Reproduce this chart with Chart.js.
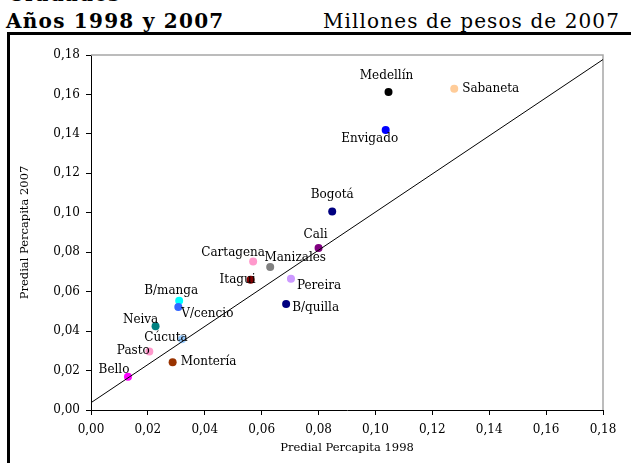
<!DOCTYPE html>
<html>
<head>
<meta charset="utf-8">
<script src="https://cdn.jsdelivr.net/npm/chart.js@4.4.1/dist/chart.umd.min.js"></script>
<style>
    body { margin: 0; width: 631px; height: 463px; overflow: hidden; background: #fff; position: relative; font-family: "DejaVu Serif", serif; }
    .head { position: absolute; white-space: nowrap; color: #000; line-height: normal; }
    #cut { left: 8px; top: -18px; font-size: 20px; font-weight: bold; letter-spacing: 1.2px; }
    #years { left: 6px; top: 9px; font-size: 20px; font-weight: bold; letter-spacing: 1.25px; }
    #units { left: 323px; top: 9px; font-size: 20px; letter-spacing: 1.1px; }
    #frame { position: absolute; left: 7px; top: 32px; width: 640px; height: 460px; border: 3px solid #000; box-sizing: border-box; }
    #wrap { position: absolute; left: 0; top: 0; width: 631px; height: 463px; }
</style>
</head>
<body>
<div class="head" id="cut">Ciudades</div>
<div class="head" id="years">Años 1998 y 2007</div>
<div class="head" id="units">Millones de pesos de 2007</div>
<div id="frame"></div>
<div id="wrap"><canvas id="chart"></canvas></div>

<script>
// Cities and their predial per capita (millones de pesos de 2007)
const cities = ['Medellín', 'Sabaneta', 'Envigado', 'Bogotá', 'Cali', 'Cartagena', 'Manizales', 'Itagui',
    'Pereira', 'B/manga', 'V/cencio', 'B/quilla', 'Neiva', 'Cúcuta', 'Pasto', 'Montería', 'Bello'];
const predial1998 = [0.1046, 0.1277, 0.1036, 0.0848, 0.0800, 0.0570, 0.0630, 0.0561,
    0.0703, 0.0310, 0.0307, 0.0686, 0.0227, 0.0320, 0.0205, 0.0287, 0.0130];
const predial2007 = [0.1613, 0.1629, 0.1420, 0.1006, 0.0821, 0.0753, 0.0725, 0.0660,
    0.0665, 0.0554, 0.0522, 0.0537, 0.0425, 0.0359, 0.0296, 0.0242, 0.0169];
const cityColors = ['#000000', '#ffcc99', '#0000ff', '#000080', '#800080', '#ff99cc', '#808080', '#800000',
    '#cc99ff', '#00ffff', '#3366ff', '#000080', '#008080', '#99ccff', '#ff99cc', '#993300', '#ff00ff'];

// Trend line end points
const trendX = [0, 0.18];
const trendY = [0.0037, 0.1777];

// Axis ticks
const tickValues = [0, 0.02, 0.04, 0.06, 0.08, 0.10, 0.12, 0.14, 0.16, 0.18];

// Label offsets from each dot: [dx, dy, align]
const labelPlace = {
    'Medellín': [-2, -16, 'center'],
    'Sabaneta': [8, 0, 'left'],
    'Envigado': [-16, 9, 'center'],
    'Bogotá': [0, -17, 'center'],
    'Cali': [-3, -13, 'center'],
    'Cartagena': [-20, -9, 'center'],
    'Manizales': [25, -9, 'center'],
    'Itagui': [-13, 0, 'center'],
    'Pereira': [6, 7, 'left'],
    'B/manga': [-8, -10, 'center'],
    'V/cencio': [3, 7, 'left'],
    'B/quilla': [6, 4, 'left'],
    'Neiva': [-15, -6, 'center'],
    'Cúcuta': [-16, -1, 'center'],
    'Pasto': [-16, -1, 'center'],
    'Montería': [8, 0, 'left'],
    'Bello': [-14, -7, 'center']
};

const fmt = v => v.toFixed(2).replace('.', ',');
const serif = '"DejaVu Serif", serif';

// Draw the city names next to the dots
const cityLabels = {
    id: 'cityLabels',
    afterDatasetsDraw(chart) {
        const ctx = chart.ctx;
        const xs = chart.scales.x, ys = chart.scales.y;
        ctx.save();
        ctx.font = '12px ' + serif;
        ctx.fillStyle = '#000';
        ctx.textBaseline = 'middle';
        cities.forEach((name, i) => {
            const p = labelPlace[name];
            ctx.textAlign = p[2];
            ctx.fillText(name, xs.getPixelForValue(predial1998[i]) + p[0], ys.getPixelForValue(predial2007[i]) + p[1]);
        });
        ctx.restore();
    }
};

// Gray top and right edge of the plot area
const plotEdge = {
    id: 'plotEdge',
    beforeDatasetsDraw(chart) {
        const a = chart.chartArea, ctx = chart.ctx;
        ctx.save();
        ctx.strokeStyle = '#a6a6a6';
        ctx.lineWidth = 1.5;
        ctx.beginPath();
        ctx.moveTo(a.left, a.top);
        ctx.lineTo(a.right, a.top);
        ctx.lineTo(a.right, a.bottom);
        ctx.stroke();
        ctx.restore();
    }
};

new Chart(document.getElementById('chart'), {
    type: 'scatter',
    data: {
        datasets: [{
            type: 'line',
            data: trendX.map((x, i) => ({ x: x, y: trendY[i] })),
            borderColor: '#000',
            borderWidth: 1,
            pointRadius: 0,
            fill: false
        }, {
            data: predial1998.map((x, i) => ({ x: x, y: predial2007[i] })),
            backgroundColor: cityColors,
            borderWidth: 0,
            pointRadius: 4,
            pointHoverRadius: 4
        }]
    },
    options: {
        responsive: true,
        maintainAspectRatio: false,
        animation: false,
        layout: { padding: { left: 0, top: 55, right: 28, bottom: 0 } },
        plugins: { legend: { display: false }, tooltip: { enabled: false } },
        scales: {
            x: {
                type: 'linear',
                min: 0, max: 0.18,
                afterBuildTicks: s => { s.ticks = tickValues.map(v => ({ value: v })); },
                afterFit: s => { s.height = 53; },
                grid: { drawOnChartArea: false, drawTicks: true, tickLength: 5, color: '#000' },
                border: { display: true, color: '#000', width: 1 },
                ticks: { color: '#000', font: { family: serif, size: 12 }, padding: 8, maxRotation: 0, callback: v => fmt(v) },
                title: { display: true, text: 'Predial Percapita 1998', color: '#000', font: { family: serif, size: 11.5 }, padding: { top: 0, bottom: 8 } }
            },
            y: {
                type: 'linear',
                min: 0, max: 0.18,
                afterBuildTicks: s => { s.ticks = tickValues.map(v => ({ value: v })); },
                afterFit: s => { s.width = 91; },
                grid: { drawOnChartArea: false, drawTicks: true, tickLength: 5, color: '#000' },
                border: { display: true, color: '#000', width: 1 },
                ticks: { color: '#000', font: { family: serif, size: 12 }, padding: 6, callback: v => fmt(v) },
                title: { display: true, text: 'Predial Percapita 2007', color: '#000', font: { family: serif, size: 11.5 }, padding: { top: 18, bottom: 0 } }
            }
        }
    },
    plugins: [cityLabels, plotEdge]
});
</script>
</body>
</html>
